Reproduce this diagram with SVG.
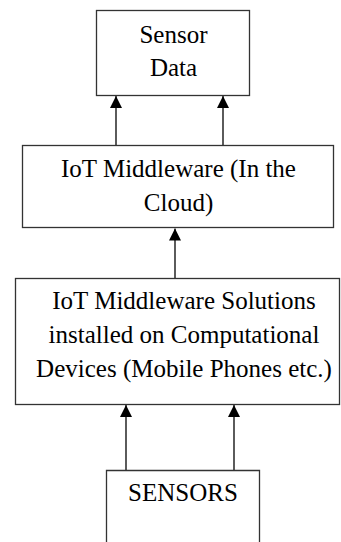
<svg xmlns="http://www.w3.org/2000/svg" width="341" height="542" viewBox="0 0 341 542">
  <style>
    .box { fill: #ffffff; stroke: #333333; stroke-width: 1.3; }
    .lbl { font-size: 25px; fill: #000000; text-anchor: middle; }
    .link { stroke: #333333; stroke-width: 1.6; fill: none; marker-end: url(#head); }
  </style>
  <defs>
    <marker id="head" markerWidth="12" markerHeight="12" viewBox="0 0 12 12" refX="12" refY="6" orient="auto" markerUnits="userSpaceOnUse">
      <path d="M0,0 L12,6 L0,12 Z" fill="#000000"/>
    </marker>
  </defs>
  <rect width="341" height="542" fill="#ffffff"/>

  <g id="connectors">
    <line class="link" x1="116" y1="146" x2="116" y2="96"/>
    <line class="link" x1="223" y1="146" x2="223" y2="96"/>
    <line class="link" x1="175" y1="278" x2="175" y2="228.5"/>
    <line class="link" x1="126" y1="471" x2="126" y2="405"/>
    <line class="link" x1="234" y1="471" x2="234" y2="405"/>
  </g>

  <g id="sensor-data">
    <rect class="box" x="96.5" y="10.5" width="153" height="85"/>
    <text class="lbl" font-family="Liberation Serif, serif" x="173.5" y="43">Sensor</text>
    <text class="lbl" font-family="Liberation Serif, serif" x="173.5" y="76">Data</text>
  </g>

  <g id="cloud-middleware">
    <rect class="box" x="22.5" y="145.5" width="311" height="82"/>
    <text class="lbl" font-family="Liberation Serif, serif" x="178.5" y="177">IoT Middleware (In the</text>
    <text class="lbl" font-family="Liberation Serif, serif" x="178.5" y="211">Cloud)</text>
  </g>

  <g id="device-middleware">
    <rect class="box" x="15.5" y="278.5" width="324" height="126"/>
    <text class="lbl" font-family="Liberation Serif, serif" x="184" y="309">IoT Middleware Solutions</text>
    <text class="lbl" font-family="Liberation Serif, serif" x="184" y="343">installed on Computational</text>
    <text class="lbl" font-family="Liberation Serif, serif" x="184" y="377">Devices (Mobile Phones etc.)</text>
  </g>

  <g id="sensors">
    <path class="box" d="M106.5,545 V470.5 H259.5 V545"/>
    <text class="lbl" font-family="Liberation Serif, serif" x="183" y="501">SENSORS</text>
  </g>
</svg>
